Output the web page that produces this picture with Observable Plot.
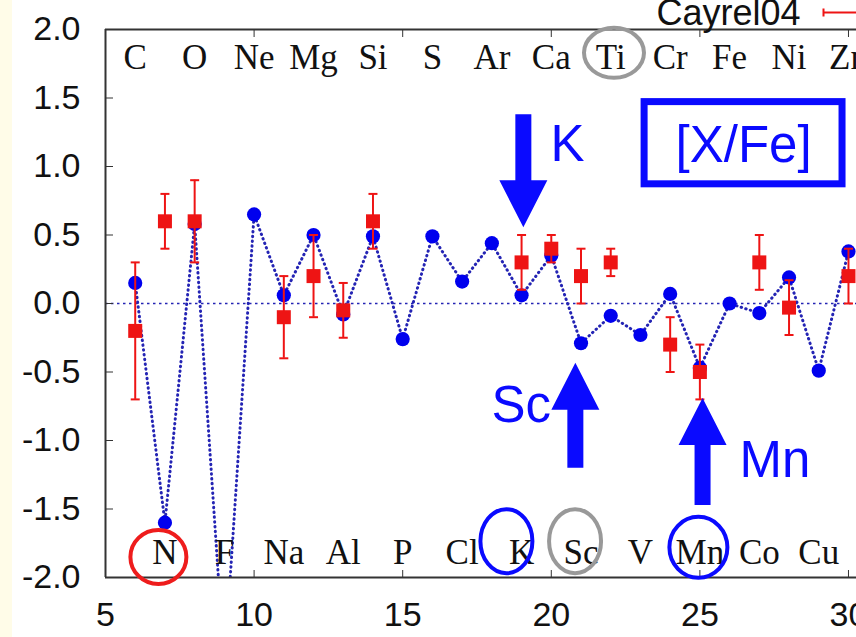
<!DOCTYPE html>
<html><head><meta charset="utf-8">
<script src="https://cdn.jsdelivr.net/npm/d3@7"></script>
<script src="https://cdn.jsdelivr.net/npm/@observablehq/plot@0.6"></script>
<style>
html,body{margin:0;padding:0;}
body{width:856px;height:637px;overflow:hidden;background:linear-gradient(to right,#fffce8 0,#fffce8 12px,#ffffff 12px);}
svg{display:block;}
</style></head><body><div id="chart"></div>
<script>
// Model [X/Fe] versus atomic number
const Z = [6,7,8,9,10,11,12,13,14,15,16,17,18,19,20,21,22,23,24,25,26,27,28,29,30];
const elements = ["C","N","O","F","Ne","Na","Mg","Al","Si","P","S","Cl","Ar","K","Ca","Sc","Ti","V","Cr","Mn","Fe","Co","Ni","Cu","Zn"];
const modelXFe = [0.15,-1.60,0.58,-2.65,0.65,0.06,0.50,-0.08,0.49,-0.26,0.49,0.16,0.44,0.06,0.35,-0.29,-0.09,-0.23,0.07,-0.47,0.00,-0.07,0.19,-0.49,0.38];

// Cayrel04 observations
const obsZ   = [6,7,8,11,12,13,14,19,20,21,22,24,25,27,28,30];
const obsXFe = [-0.20,0.60,0.60,-0.10,0.20,-0.05,0.60,0.30,0.40,0.20,0.30,-0.30,-0.50,0.30,-0.03,0.20];
const obsErr = [0.50,0.20,0.30,0.30,0.30,0.20,0.20,0.20,0.10,0.20,0.10,0.20,0.20,0.20,0.20,0.20];

// Axis ticks
const xTicks = [5,10,15,20,25,30];
const yTicks = [-2,-1.5,-1,-0.5,0,0.5,1,1.5,2];
const topZ = [6,8,10,12,14,16,18,20,22,24,26,28,30];
const bottomZ = [7,9,11,13,15,17,19,21,23,25,27,29];
const legendLabel = "Cayrel04";

// Annotations (data coordinates)
const arrows = [
  {label:"K",  z:19.06, v:0.557, dir:"down", len:113},
  {label:"Sc", z:20.81, v:-0.433, dir:"up", len:105},
  {label:"Mn", z:25.09, v:-0.69, dir:"up", len:107}
];
const noteTexts = [
  {t:"K",  z:19.97, v:1.039},
  {t:"Sc", z:17.99, v:-0.866},
  {t:"Mn", z:26.33, v:-1.266}
];
const boxNote = {t:"[X/Fe]", z1:23.14, z2:29.80, v1:0.87, v2:1.47, tz:26.47, tv:1.031};
const rings = [
  {z:6.78,  v:-1.85,  rx:28, ry:27,   c:"#ee1c1c"},
  {z:22.11, v:1.83,   rx:30, ry:25,   c:"#999999"},
  {z:18.49, v:-1.735, rx:26, ry:32,   c:"#0a0aff"},
  {z:20.80, v:-1.735, rx:26, ry:32,   c:"#999999"},
  {z:24.95, v:-1.78,  rx:29, ry:30.5, c:"#0a0aff"}
];

const model = Z.map((z,i)=>({z, v:modelXFe[i], el:elements[i]}));
const obs = obsZ.map((z,i)=>({z, v:obsXFe[i], lo:obsXFe[i]-obsErr[i], hi:obsXFe[i]+obsErr[i]}));
const elByZ = new Map(Z.map((z,i)=>[z, elements[i]]));

const RED = "#ee1414", BLUE = "#0000ee", LINEBLUE = "#2424b4", ANN = "#0a0aff";

const capSym = {draw(ctx){ctx.moveTo(-4.5,0);ctx.lineTo(4.5,0);}};
const legendSym = {draw(ctx){ctx.moveTo(-33,0);ctx.lineTo(2,0);ctx.moveTo(-33,-4);ctx.lineTo(-33,4);}};
function arrowSym(dir, L){
  const s = dir === "down" ? -1 : 1;
  return {draw(ctx){
    ctx.moveTo(0,0); ctx.lineTo(-24,s*47); ctx.lineTo(-8,s*47); ctx.lineTo(-8,s*L);
    ctx.lineTo(8,s*L); ctx.lineTo(8,s*47); ctx.lineTo(24,s*47); ctx.closePath();
  }};
}
function ellipseSym(rx, ry){
  const k = 0.5523;
  return {draw(ctx){
    ctx.moveTo(rx,0);
    ctx.bezierCurveTo(rx,k*ry,k*rx,ry,0,ry);
    ctx.bezierCurveTo(-k*rx,ry,-rx,k*ry,-rx,0);
    ctx.bezierCurveTo(-rx,-k*ry,-k*rx,-ry,0,-ry);
    ctx.bezierCurveTo(k*rx,-ry,rx,-k*ry,rx,0);
    ctx.closePath();
  }};
}

const marks = [
  Plot.ruleY([0], {stroke: LINEBLUE, strokeWidth: 1.5, strokeDasharray: "2.5,3.5"}),
  Plot.line(model, {x:"z", y:"v", stroke: LINEBLUE, strokeWidth: 3, strokeDasharray: "0.5,4.3", strokeLinecap: "round", clip: true}),
  Plot.dot(model, {x:"z", y:"v", r: 7.1, fill: BLUE, stroke: "none", clip: true}),
  Plot.ruleX(obs, {x:"z", y1:"lo", y2:"hi", stroke: RED, strokeWidth: 2}),
  Plot.dot(obs, {x:"z", y:"lo", symbol: capSym, stroke: RED, strokeWidth: 2, fill: "none"}),
  Plot.dot(obs, {x:"z", y:"hi", symbol: capSym, stroke: RED, strokeWidth: 2, fill: "none"}),
  Plot.dot(obs, {x:"z", y:"v", symbol: "square", r: 7.9, fill: RED, stroke: "none"}),
  // element labels
  Plot.text(topZ, {x: d=>d, text: d=>elByZ.get(d), frameAnchor: "top", lineAnchor: "bottom", dy: 39, fontFamily: "Liberation Serif", fontSize: 35, fill: "#111"}),
  Plot.text(bottomZ, {x: d=>d, text: d=>elByZ.get(d), frameAnchor: "bottom", lineAnchor: "bottom", dy: -14, fontFamily: "Liberation Serif", fontSize: 35, fill: "#111"}),
  // frame
  Plot.ruleX([5], {stroke: "#333", strokeWidth: 2}),
  Plot.ruleY([-2, 2], {stroke: "#333", strokeWidth: 2}),
  // axes
  Plot.axisX({anchor: "bottom", ticks: xTicks, tickSize: 0, tickPadding: 24, fontSize: 34, label: null, tickFormat: d=>String(d), fill: "#111"}),
  Plot.axisX({anchor: "bottom", ticks: xTicks, tickSize: 7, dy: -7, label: null, tickFormat: ()=>"", stroke: "#333"}),
  Plot.axisX({anchor: "top", ticks: xTicks, tickSize: 7, dy: 7, label: null, tickFormat: ()=>"", stroke: "#333"}),
  Plot.axisY({anchor: "left", ticks: yTicks, tickSize: 0, tickPadding: 25, fontSize: 34, label: null, tickFormat: d=>d.toFixed(1), fill: "#111"}),
  Plot.axisY({anchor: "left", ticks: yTicks, tickSize: 8, dx: 8, label: null, tickFormat: ()=>"", stroke: "#333"}),
  // legend
  Plot.text([legendLabel], {text: d=>d, frameAnchor: "top-right", textAnchor: "end", lineAnchor: "bottom", dx: -56, dy: -5, fontSize: 36, fill: "#111"}),
  Plot.dot([legendLabel], {frameAnchor: "top-right", dy: -17, symbol: legendSym, stroke: RED, strokeWidth: 2, fill: "none"}),
  // annotations
  ...rings.map(r => Plot.dot([r], {x:"z", y:"v", symbol: ellipseSym(r.rx, r.ry), stroke: r.c, strokeWidth: 4, fill: "none"})),
  ...arrows.map(a => Plot.dot([a], {x:"z", y:"v", symbol: arrowSym(a.dir, a.len), fill: ANN, stroke: "none"})),
  Plot.text(noteTexts, {x:"z", y:"v", text:"t", textAnchor: "start", lineAnchor: "bottom", fontSize: 51, fill: ANN}),
  Plot.rect([boxNote], {x1:"z1", x2:"z2", y1:"v1", y2:"v2", fill: "none", stroke: ANN, strokeWidth: 7}),
  Plot.text([boxNote], {x:"tz", y:"tv", text:"t", textAnchor: "middle", lineAnchor: "bottom", fontSize: 51, fill: ANN})
];

const chart = Plot.plot({
  width: 856,
  height: 637,
  marginLeft: 105,
  marginRight: 0,
  marginTop: 29,
  marginBottom: 60,
  x: {domain: [5, 30.27]},
  y: {domain: [-2, 2]},
  style: {fontFamily: "'Liberation Sans', Arial, sans-serif", background: "transparent", overflow: "visible"},
  marks
});
document.getElementById("chart").appendChild(chart);
</script>
</body></html>
